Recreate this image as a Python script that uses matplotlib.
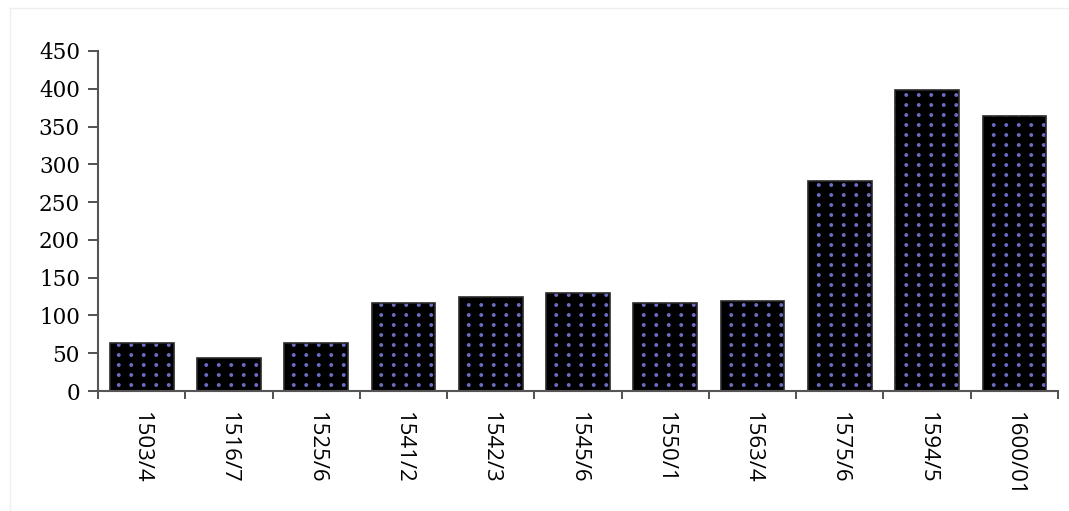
import matplotlib.pyplot as plt
import numpy as np
from matplotlib import hatch as mhatch
from matplotlib.path import Path

periods = ["1503/4", "1516/7", "1525/6", "1541/2", "1542/3", "1545/6",
           "1550/1", "1563/4", "1575/6", "1594/5", "1600/01"]
values = [63, 44, 63, 116, 124, 130, 116, 119, 278, 398, 364]
y_ticks = [0, 50, 100, 150, 200, 250, 300, 350, 400, 450]


class GridDots(mhatch.HatchPatternBase):
    """'.' hatch as a plain (non staggered) grid of small filled dots."""
    cols, rows, radius = 8, 10, 0.013

    def __init__(self, hatch, density):
        circle = Path.unit_circle()
        self.shape_vertices = circle.vertices * self.radius
        self.shape_codes = circle.codes
        self.num_shapes = self.cols * self.rows if "." in hatch else 0
        self.num_vertices = self.num_shapes * len(self.shape_vertices)

    def set_vertices_and_codes(self, vertices, codes):
        n = len(self.shape_vertices)
        k = 0
        for r in range(self.rows):
            for c in range(self.cols):
                cx = (c + 0.5) / self.cols
                cy = (r + 0.5) / self.rows
                vertices[k:k + n] = self.shape_vertices + (cx, cy)
                codes[k:k + n] = self.shape_codes
                k += n


mhatch._hatch_types[:] = [GridDots if t is mhatch.SmallFilledCircles else t
                          for t in mhatch._hatch_types]
plt.rcParams["hatch.linewidth"] = 0.9

fig = plt.figure(figsize=(10.69, 5.11), dpi=100)
ax = fig.add_axes([0.0917, 0.2348, 0.898, 0.6654])

x = np.arange(len(periods))
# dotted fill (hatch takes the edge colour), then the dark outline on top
ax.bar(x, values, width=0.73, color="black", edgecolor="#6c6cc4",
       linewidth=0, hatch=".")
ax.bar(x, values, width=0.73, color="none", edgecolor="#2a2a2a", linewidth=1.2)

ax.set_xlim(-0.5, len(periods) - 0.5)
ax.set_ylim(0, 450)
ax.set_yticks(y_ticks)
ax.set_yticklabels([str(v) for v in y_ticks], family="DejaVu Serif", fontsize=15.5)

# ticks between the categories, labels centred under the bars
ax.set_xticks(np.arange(len(periods) + 1) - 0.5)
ax.set_xticklabels([])
ax.set_xticks(x, minor=True)
ax.set_xticklabels(periods, minor=True, rotation=270, family="Open Sans",
                   fontsize=16, va="top", ha="center")
ax.tick_params(axis="x", which="minor", length=0, pad=15)
ax.tick_params(axis="x", which="major", length=6, width=1.3, color="#444444")
ax.tick_params(axis="y", length=7, width=1.3, color="#444444", pad=6)

for side in ["top", "right"]:
    ax.spines[side].set_visible(False)
for side in ["left", "bottom"]:
    ax.spines[side].set_color("#555555")
    ax.spines[side].set_linewidth(1.5)

# faint frame of the original figure
fig.add_artist(plt.Line2D([0.009, 0.009], [0.0, 0.985], color="#eeeeee", lw=1))
fig.add_artist(plt.Line2D([0.009, 1.0], [0.985, 0.985], color="#eeeeee", lw=1))

fig.savefig("out.png", dpi=100)
